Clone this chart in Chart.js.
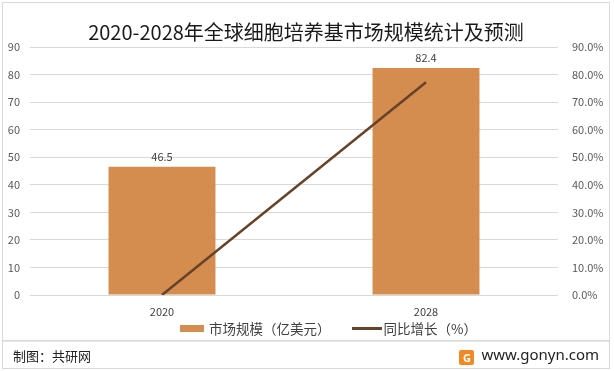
<!DOCTYPE html>
<html>
<head>
<meta charset="utf-8">
<script src="https://cdn.jsdelivr.net/npm/chart.js@4.4.0/dist/chart.umd.min.js"></script>
<style>
    body { margin: 0; background: #fff; font-family: "Noto Sans CJK SC", sans-serif; }
    #wrap { position: absolute; left: 2px; top: 2px; width: 606px; height: 337px; border: 1px solid #d9d9d9; }
    #legend { position: absolute; left: 180px; top: 319px; display: flex; align-items: center; font-size: 13.5px; line-height: 18px; color: #404040; white-space: nowrap; }
    #legend .item { display: flex; align-items: center; }
    #legend .item + .item { margin-left: 21px; }
    .swatch { display: inline-block; }
    #footer { position: absolute; left: 2px; top: 341px; width: 606px; height: 26px; border: 1px solid #d9d9d9; border-top: 1px solid #e6e6e6; }
    #credit { position: absolute; left: 10px; top: 4px; font-size: 13px; color: #222; }
    #site { position: absolute; right: 10px; top: 2px; font-size: 15px; color: #222; font-family: "Noto Sans", sans-serif; }
    #logo { display: inline-block; width: 15px; height: 15px; background: #f08a24; border-radius: 2px; vertical-align: -2px; margin-right: 7px; color: #fff; font-size: 11px; line-height: 15px; text-align: center; font-weight: bold; }
</style>
</head>
<body>
<div id="wrap"><canvas id="chart" width="606" height="337"></canvas></div>
<div id="legend"></div>
<div id="footer">
    <div id="credit">制图：共研网</div>
    <div id="site"><span id="logo">G</span>www.gonyn.com</div>
</div>
<script>
const years = ['2020', '2028'];
const marketSize = [46.5, 82.4];
const growthRate = [0, 77.2];
const leftTicks = [0, 90, 10];
const rightTicks = [0, 90, 10];

const barColor = '#D58C4F';
const lineColor = '#654329';
const tickFont = { family: '"Noto Sans CJK SC", sans-serif', size: 11 };

// draws the value above each bar
const barLabels = {
    id: 'barLabels',
    afterDatasetsDraw(chart) {
        const ctx = chart.ctx;
        const meta = chart.getDatasetMeta(0);
        ctx.save();
        ctx.font = '11px "Noto Sans CJK SC", sans-serif';
        ctx.fillStyle = '#404040';
        ctx.textAlign = 'center';
        ctx.textBaseline = 'bottom';
        meta.data.forEach(function (bar, i) {
            ctx.fillText(marketSize[i].toFixed(1), bar.x, bar.y - 5);
        });
        ctx.restore();
    }
};

const chart = new Chart(document.getElementById('chart'), {
    data: {
        labels: years,
        datasets: [{
            type: 'bar',
            label: '市场规模（亿美元）',
            data: marketSize,
            backgroundColor: barColor,
            yAxisID: 'y',
            categoryPercentage: 0.81,
            barPercentage: 0.5,
            order: 2
        }, {
            type: 'line',
            label: '同比增长（%）',
            data: growthRate,
            borderColor: lineColor,
            backgroundColor: lineColor,
            borderWidth: 2.5,
            pointRadius: 0,
            yAxisID: 'y1',
            order: 1
        }]
    },
    options: {
        responsive: false,
        animation: false,
        layout: { padding: 0 },
        plugins: {
            title: {
                display: true,
                text: '2020-2028年全球细胞培养基市场规模统计及预测',
                color: '#1a1a1a',
                font: { family: '"Noto Sans CJK SC", sans-serif', size: 20, weight: 'normal' },
                padding: { top: 17, bottom: 3 }
            },
            legend: { display: false },
            tooltip: { enabled: false }
        },
        scales: {
            x: {
                grid: { display: false },
                border: { display: false },
                ticks: { color: '#404040', font: tickFont, padding: 2 },
                afterFit: function (scale) { scale.height = 45; }
            },
            y: {
                position: 'left',
                min: leftTicks[0],
                max: leftTicks[1],
                ticks: { stepSize: leftTicks[2], color: '#595959', font: tickFont, padding: 10 },
                grid: { color: '#d9d9d9', drawTicks: false },
                border: { display: false },
                afterFit: function (scale) { scale.width = 27; }
            },
            y1: {
                position: 'right',
                min: rightTicks[0],
                max: rightTicks[1],
                ticks: {
                    stepSize: rightTicks[2], color: '#595959', font: tickFont, padding: 14,
                    callback: function (v) { return v.toFixed(1) + '%'; }
                },
                grid: { display: false, drawTicks: false },
                border: { display: false },
                afterFit: function (scale) { scale.width = 51; }
            }
        }
    },
    plugins: [barLabels]
});

// html legend: box for the bars, thick line for the growth series
const legend = document.getElementById('legend');
chart.data.datasets.forEach(function (ds) {
    const item = document.createElement('span');
    item.className = 'item';
    const sw = document.createElement('span');
    sw.className = 'swatch';
    if (ds.type === 'bar') {
        sw.style.cssText = 'width:24px;height:7px;margin-right:5px;background:' + ds.backgroundColor;
    } else {
        sw.style.cssText = 'width:30px;height:3px;margin-right:2px;background:' + ds.borderColor;
    }
    item.appendChild(sw);
    item.appendChild(document.createTextNode(ds.label));
    legend.appendChild(item);
});
</script>
</body>
</html>
